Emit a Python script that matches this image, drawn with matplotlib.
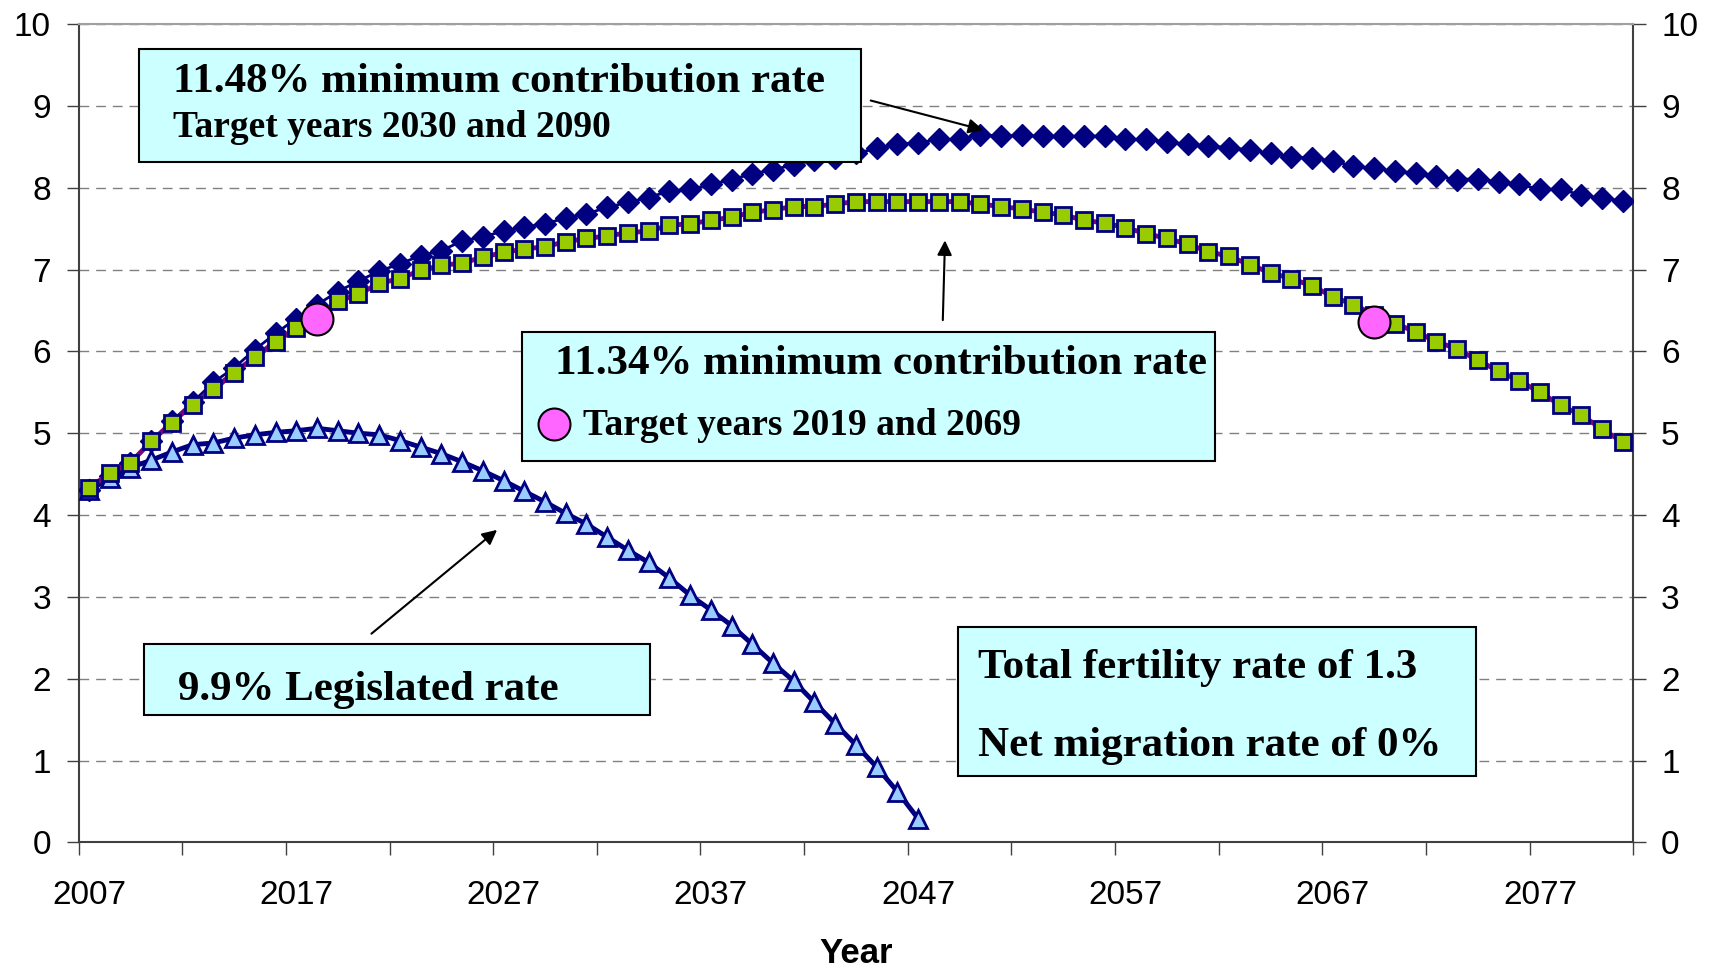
import matplotlib
matplotlib.use("Agg")
import matplotlib.pyplot as plt
import numpy as np
from matplotlib.patches import Rectangle

# data (years 2007..2081)
years = np.arange(2007, 2082)
rate_1148 = [4.30, 4.48, 4.63, 4.90, 5.15, 5.38, 5.62, 5.80, 6.02, 6.22,
             6.40, 6.57, 6.73, 6.86, 6.98, 7.07, 7.17, 7.23, 7.35, 7.40,
             7.47, 7.52, 7.56, 7.63, 7.68, 7.76, 7.82, 7.88, 7.96, 7.98,
             8.04, 8.10, 8.17, 8.22, 8.28, 8.34, 8.36, 8.42, 8.48, 8.53,
             8.55, 8.59, 8.59, 8.65, 8.63, 8.64, 8.63, 8.63, 8.63, 8.63,
             8.59, 8.59, 8.56, 8.53, 8.51, 8.49, 8.46, 8.42, 8.38, 8.36,
             8.33, 8.26, 8.24, 8.20, 8.18, 8.14, 8.10, 8.11, 8.07, 8.04,
             7.98, 7.98, 7.91, 7.87, 7.84]
rate_1134 = [4.33, 4.51, 4.64, 4.90, 5.13, 5.35, 5.54, 5.74, 5.93, 6.12,
             6.28, 6.42, 6.61, 6.70, 6.83, 6.89, 6.99, 7.05, 7.08, 7.15,
             7.21, 7.25, 7.28, 7.34, 7.38, 7.41, 7.45, 7.47, 7.54, 7.56,
             7.60, 7.64, 7.70, 7.73, 7.77, 7.77, 7.80, 7.83, 7.83, 7.83,
             7.83, 7.83, 7.83, 7.80, 7.77, 7.74, 7.70, 7.67, 7.60, 7.57,
             7.51, 7.44, 7.38, 7.31, 7.22, 7.16, 7.06, 6.96, 6.89, 6.80,
             6.67, 6.57, 6.45, 6.34, 6.24, 6.12, 6.03, 5.89, 5.76, 5.64,
             5.50, 5.34, 5.22, 5.05, 4.89]
legislated = [4.30, 4.45, 4.58, 4.67, 4.77, 4.86, 4.88, 4.94, 4.98, 5.01,
              5.03, 5.06, 5.03, 5.00, 4.98, 4.91, 4.83, 4.75, 4.65, 4.54,
              4.42, 4.29, 4.16, 4.02, 3.89, 3.73, 3.57, 3.42, 3.23, 3.02,
              2.84, 2.65, 2.42, 2.19, 1.97, 1.71, 1.45, 1.19, 0.92, 0.62,
              0.29]
target_years = [2018, 2069]
target_vals = [6.40, 6.36]
label_years = np.arange(2007, 2082, 10)

W, H = 1568.0, 886.0   # layout measured on the shrunk reference
def fx(x): return x / W
def fy(y): return 1 - y / H

fig = plt.figure(figsize=(17.13, 9.68), dpi=100)
ax = fig.add_axes([fx(72), fy(771), fx(1495) - fx(72), fy(22) - fy(771)])

idx = lambda yrs: np.asarray(yrs) - 2007
navy = '#000080'
ax.plot(idx(years), rate_1148, color=navy, lw=2, marker='D', ms=11.5,
        mfc=navy, mec=navy, zorder=3)
ax.plot(idx(years[:len(legislated)]), legislated, color=navy, lw=3.5,
        marker='^', ms=12.5, mfc='#99CCFF', mec=navy, mew=2, zorder=4)
ax.plot(idx(years), rate_1134, color='#800080', lw=3.5, marker='s', ms=11.5,
        mfc='#99CC00', mec=navy, mew=2, zorder=5)
ax.plot(idx(target_years), target_vals, ls='none', marker='o', ms=23,
        mfc='#FF66FF', mec='black', mew=1.5, zorder=6)

ax.set_xlim(-0.5, 74.5)
ax.set_ylim(0, 10)
ax.set_yticks(range(11))
ax.set_xticks(np.arange(-0.5, 75, 5))
ax.set_xticklabels([])
ax.set_xticks(idx(label_years), minor=True)
ax.set_xticklabels([str(y) for y in label_years], minor=True)
ax.tick_params(axis='x', which='major', direction='out', length=9, width=1, color='#404040')
ax.tick_params(axis='x', which='minor', length=0, pad=27, labelsize=24)
ax.tick_params(axis='y', direction='out', length=9, width=1, color='#404040',
               right=True, labelright=True, labelsize=24, pad=11)
for lab in ax.get_xticklabels(minor=True) + ax.get_yticklabels():
    lab.set_fontfamily('Liberation Sans')

ax.grid(axis='y', color='#808080', ls=(0, (7, 5)), lw=1)
for s in ['left', 'right', 'bottom']:
    ax.spines[s].set_color('#404040')
    ax.spines[s].set_linewidth(1.5)
ax.spines['top'].set_color('#A0A0A0')
ax.spines['top'].set_linewidth(1.5)

ax.set_xlabel('Year', fontsize=25, fontweight='bold', fontfamily='Liberation Sans')
ax.xaxis.set_label_coords(0.5, (771 - 858) / 749.0)
ax.xaxis.label.set_va('top')

# annotation boxes
def box(x0, y0, x1, y1):
    fig.add_artist(Rectangle((fx(x0), fy(y1)), fx(x1) - fx(x0), fy(y0) - fy(y1),
                             transform=fig.transFigure, facecolor='#CCFFFF',
                             edgecolor='black', lw=1.5, zorder=10))

def txt(x, y, s, size):
    fig.text(fx(x), fy(y), s, fontsize=size, fontweight='bold',
             fontfamily='Liberation Serif', ha='left', va='baseline', zorder=11)

box(127, 45, 788, 148)
txt(158, 84, '11.48% minimum contribution rate', 31)
txt(158, 125, 'Target years 2030 and 2090', 27)

box(478, 304, 1112, 422)
txt(508, 342, '11.34% minimum contribution rate', 31)
txt(534, 398, 'Target years 2019 and 2069', 27)
fig.add_artist(plt.Line2D([fx(507)], [fy(388)], transform=fig.transFigure,
                          marker='o', ms=23, mfc='#FF66FF', mec='black', mew=1.5,
                          ls='none', zorder=12))

box(132, 589, 595, 654)
txt(163, 641, '9.9% Legislated rate', 31)

box(877, 574, 1351, 710)
txt(895, 621, 'Total fertility rate of 1.3', 31)
txt(895, 692, 'Net migration rate of 0%', 31)

# arrows
def arrow(x0, y0, x1, y1):
    ax.annotate('', xy=(fx(x1), fy(y1)), xytext=(fx(x0), fy(y0)),
                xycoords='figure fraction', textcoords='figure fraction',
                arrowprops=dict(arrowstyle='-|>', color='black', lw=1.5,
                                mutation_scale=22, shrinkA=0, shrinkB=0),
                zorder=9)

arrow(797, 92, 900, 119)
arrow(863, 293, 865, 220)
arrow(340, 580, 455, 485)

fig.savefig('out.png', dpi=100)
